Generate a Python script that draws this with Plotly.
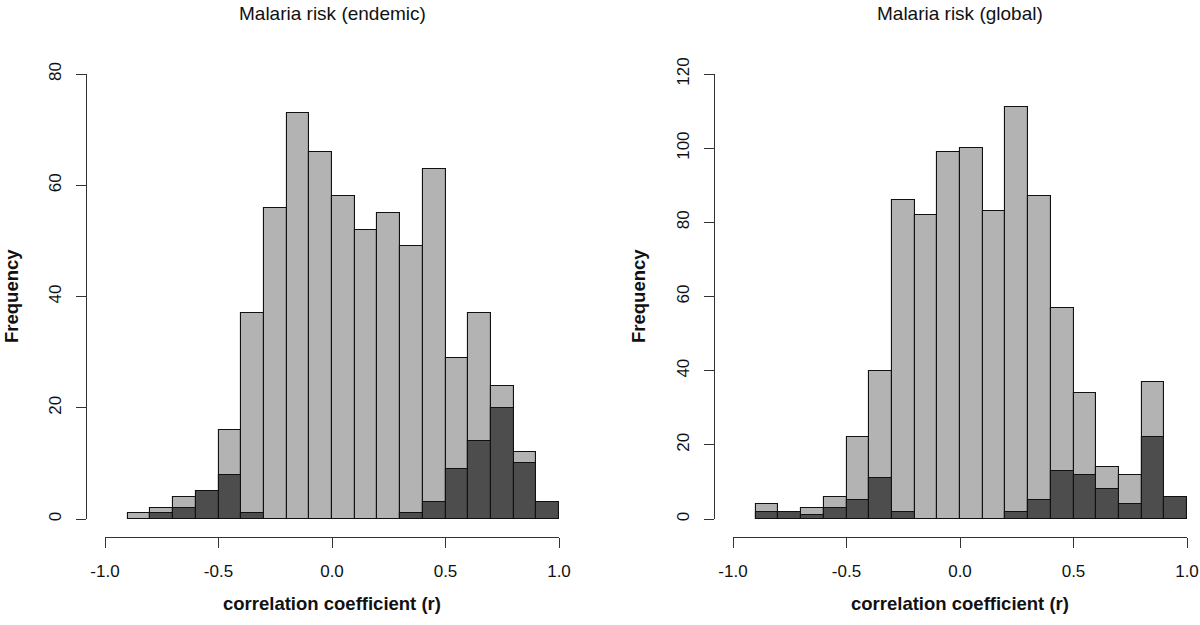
import plotly.graph_objects as go

# bin left edges (width 0.1)
bin_starts = [-0.9, -0.8, -0.7, -0.6, -0.5, -0.4, -0.3, -0.2, -0.1, 0.0,
              0.1, 0.2, 0.3, 0.4, 0.5, 0.6, 0.7, 0.8, 0.9]
bin_width = 0.1

# Malaria risk (endemic)
endemic_all = [1, 2, 4, 0, 16, 37, 56, 73, 66, 58, 52, 55, 49, 63, 29, 37, 24, 12, 0]
endemic_sig = [0, 1, 2, 5, 8, 1, 0, 0, 0, 0, 0, 0, 1, 3, 9, 14, 20, 10, 3]

# Malaria risk (global)
global_all = [4, 0, 3, 6, 22, 40, 86, 82, 99, 100, 83, 111, 87, 57, 34, 14, 12, 37, 0]
global_sig = [2, 2, 1, 3, 5, 11, 2, 0, 0, 0, 0, 2, 5, 13, 12, 8, 4, 22, 6]

titles = ["Malaria risk (endemic)", "Malaria risk (global)"]
x_ticks = [-1.0, -0.5, 0.0, 0.5, 1.0]
x_ticklabels = ["-1.0", "-0.5", "0.0", "0.5", "1.0"]
y_ticks_left = [0, 20, 40, 60, 80]
y_ticks_right = [0, 20, 40, 60, 80, 100, 120]

LIGHT = "#B3B3B3"
DARK = "#4D4D4D"
EDGE = "#111111"
FONT = "Liberation Sans, Arial, Helvetica, sans-serif"

W, H = 1200, 625

def px_x(p):
    return p / W

def px_y(p):
    return (H - p) / H

fig = go.Figure()

for i, (all_v, sig_v) in enumerate([(endemic_all, endemic_sig), (global_all, global_sig)]):
    xa = "x" if i == 0 else "x2"
    ya = "y" if i == 0 else "y2"
    fig.add_trace(go.Bar(x=bin_starts, y=all_v, width=bin_width, offset=0,
                         marker=dict(color=LIGHT, line=dict(color=EDGE, width=1.1)),
                         xaxis=xa, yaxis=ya, showlegend=False, hoverinfo="skip"))
    fig.add_trace(go.Bar(x=bin_starts, y=sig_v, width=bin_width, offset=0,
                         marker=dict(color=DARK, line=dict(color=EDGE, width=1.1)),
                         xaxis=xa, yaxis=ya, showlegend=False, hoverinfo="skip"))

axis_common = dict(showgrid=False, zeroline=False, showline=True, linecolor="#333333",
                   linewidth=1, ticks="outside", ticklen=10, tickcolor="#333333",
                   tickfont=dict(family=FONT, size=17, color="#111111"))

# left panel: x -1..1 maps px 105..559 ; y 0..80 maps px 519..74
fig.update_layout(
    xaxis=dict(domain=[px_x(105), px_x(559)], range=[-1, 1], anchor="free",
               position=px_y(537), tickvals=x_ticks, ticktext=x_ticklabels,
               ticklabelstandoff=9, **axis_common),
    yaxis=dict(domain=[px_y(519), px_y(74)], range=[0, 80], anchor="free",
               position=px_x(86), tickvals=y_ticks_left, tickangle=-90,
               ticklabelstandoff=8, **axis_common),
    xaxis2=dict(domain=[px_x(733), px_x(1187)], range=[-1, 1], anchor="free",
                position=px_y(537), tickvals=x_ticks, ticktext=x_ticklabels,
                ticklabelstandoff=9, **axis_common),
    yaxis2=dict(domain=[px_y(519), px_y(74)], range=[0, 120], anchor="free",
                position=px_x(714), tickvals=y_ticks_right, tickangle=-90,
                ticklabelstandoff=8, **axis_common),
)

annotations = []
for cx, t in zip([332, 960], titles):
    annotations.append(dict(text=t, x=px_x(cx), y=px_y(14), xref="paper", yref="paper",
                            showarrow=False, xanchor="center", yanchor="middle",
                            font=dict(family=FONT, size=19, color="#111111")))
for cx in [332, 960]:
    annotations.append(dict(text="<b>correlation coefficient (r)</b>", x=px_x(cx), y=px_y(603),
                            xref="paper", yref="paper", showarrow=False,
                            xanchor="center", yanchor="middle",
                            font=dict(family=FONT, size=18.5, color="#111111")))
for cx in [11, 638]:
    annotations.append(dict(text="<b>Frequency</b>", x=px_x(cx), y=px_y(296),
                            xref="paper", yref="paper", showarrow=False, textangle=-90,
                            xanchor="center", yanchor="middle",
                            font=dict(family=FONT, size=18.5, color="#111111")))

fig.update_layout(
    width=W, height=H,
    margin=dict(l=0, r=0, t=0, b=0, autoexpand=False),
    paper_bgcolor="white", plot_bgcolor="white",
    barmode="overlay", bargap=0,
    annotations=annotations,
    font=dict(family=FONT),
)

fig.write_html("out.html", config={"displayModeBar": False},
               post_script="document.body.style.margin='0';document.body.style.overflow='hidden';")
